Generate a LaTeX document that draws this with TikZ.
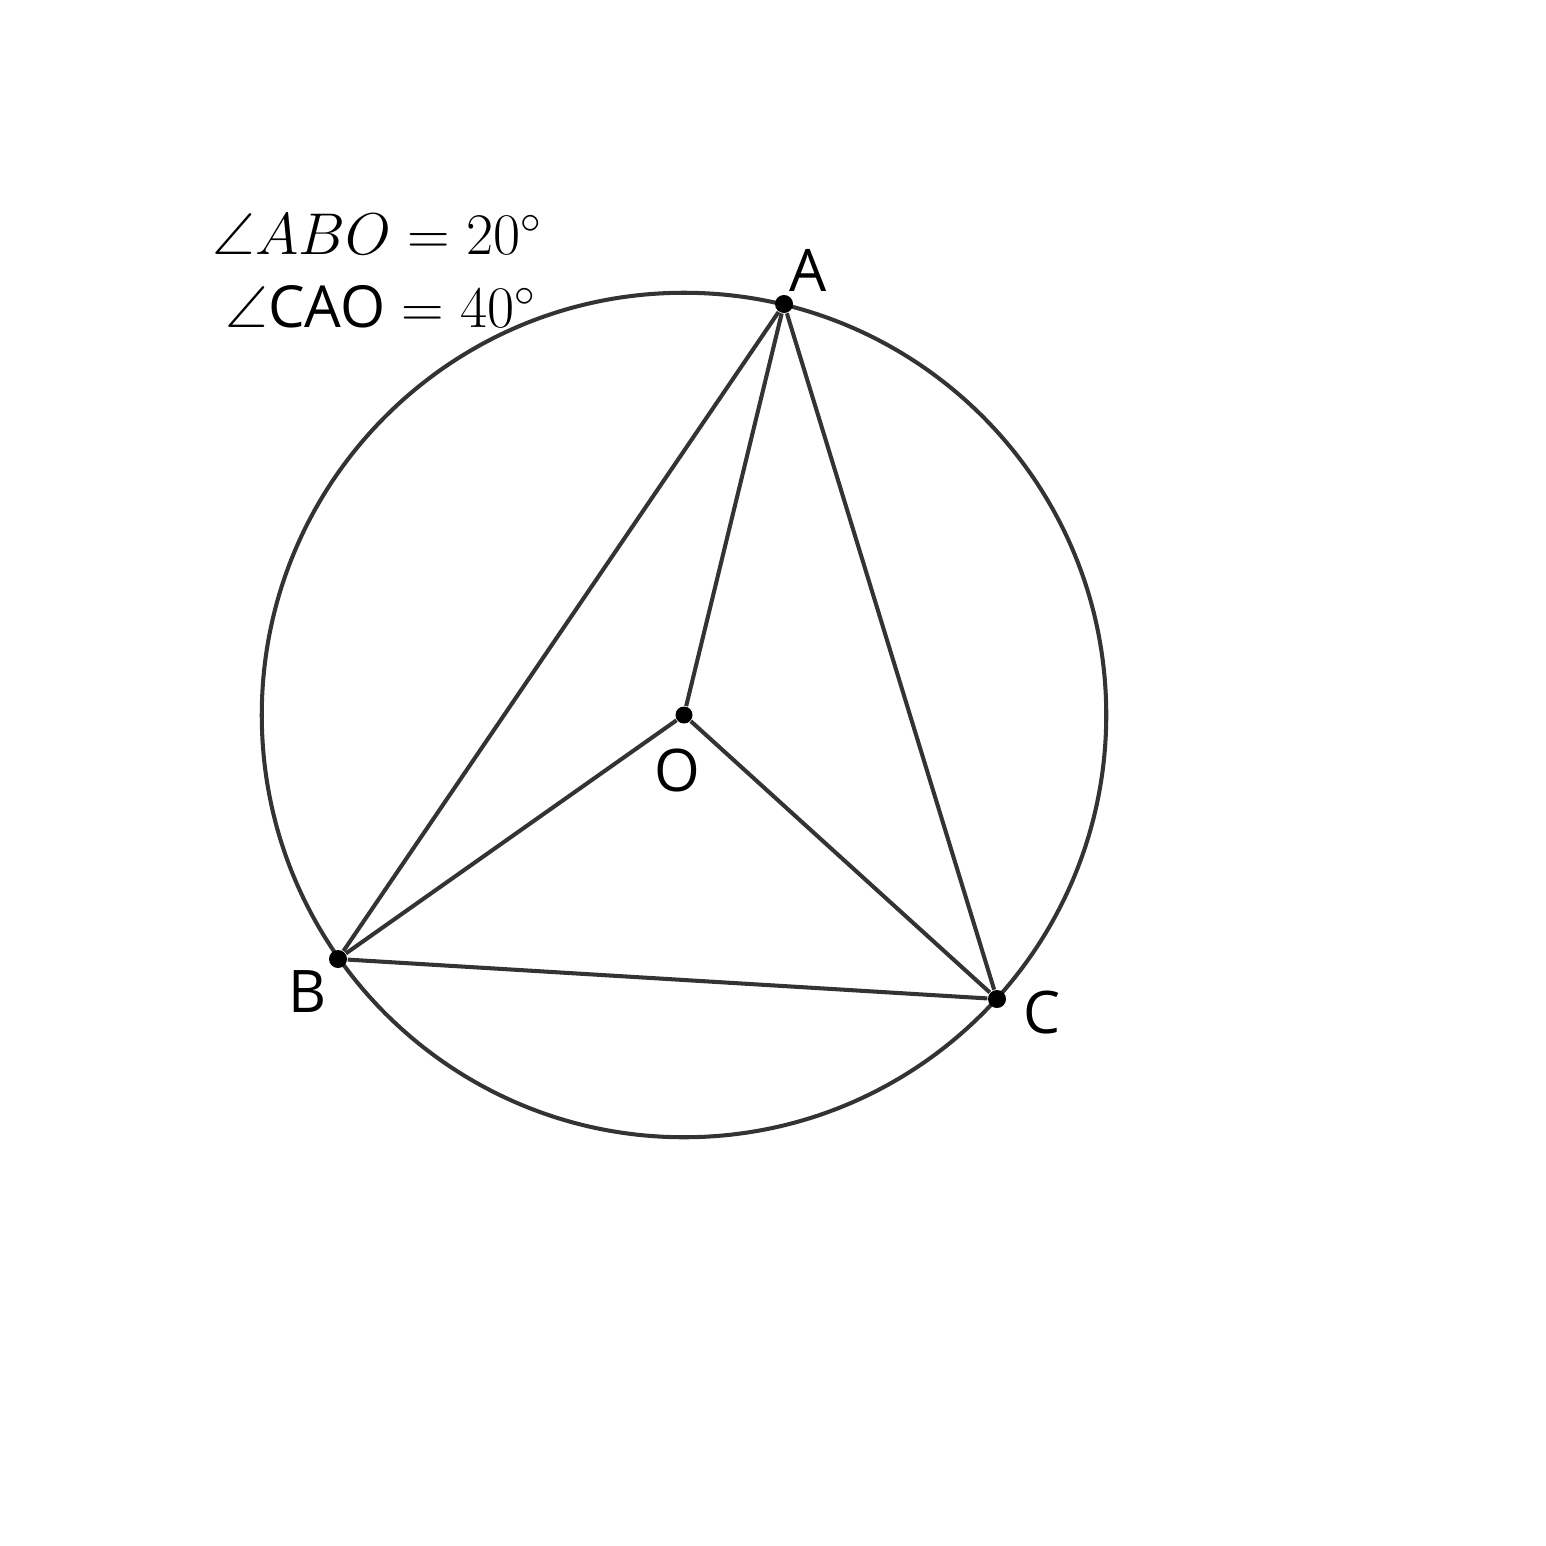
\documentclass[tikz,border=0pt]{standalone}
\usepackage{amsmath,amsthm,amssymb}
\usepackage{fontspec}
\setmainfont{Open Sans}
\newfontfamily\lblfont{Open Sans}
\usepackage{tikz}
\definecolor{linegray}{HTML}{333333}
\tikzset{
  pt/.style={shape=circle,fill=black,inner sep=0pt,minimum size=0.18cm},
  lbl/.style={inner sep=0pt,font=\lblfont\fontsize{16.7}{18}\selectfont},
  seg/.style={draw=linegray,line width=1.15pt}
}
\begin{document}
\begin{tikzpicture}[x=0.01cm,y=-0.01cm]
\useasboundingbox (0,0) rectangle (1546,1546);
\draw[seg] (684,715) circle [radius=4.22cm];
\node[pt] (A) at (784,304) {};
\node[pt] (B) at (338,959) {};
\node[pt] (C) at (997,999) {};
\node[pt,minimum size=0.17cm] (O) at (684,715) {};
\path [seg] (A) edge (B);
\path [seg] (A) edge (C);
\path [seg] (B) edge (C);
\path [seg] (O) edge (A);
\path [seg] (O) edge (B);
\path [seg] (O) edge (C);
\node[lbl] (la) at (808,270) {A};
\node[lbl] (lb) at (308,992) {B};
\node[lbl] (lc) at (1042,1013) {C};
\node[lbl] (lo) at (677,770) {O};
\node[inner sep=0pt,anchor=base west,font=\fontsize{17.28}{20}\selectfont] (abo) at (212,255) {\scalebox{0.97}{$\angle ABO = 20^\circ$}};
\node[inner sep=0pt,anchor=base west,font=\fontsize{17.28}{20}\selectfont] (cao) at (225,328) {\scalebox{0.97}{$\angle\text{\lblfont\fontsize{17}{18}\selectfont CAO} = 40^\circ$}};
\end{tikzpicture}
\end{document}
